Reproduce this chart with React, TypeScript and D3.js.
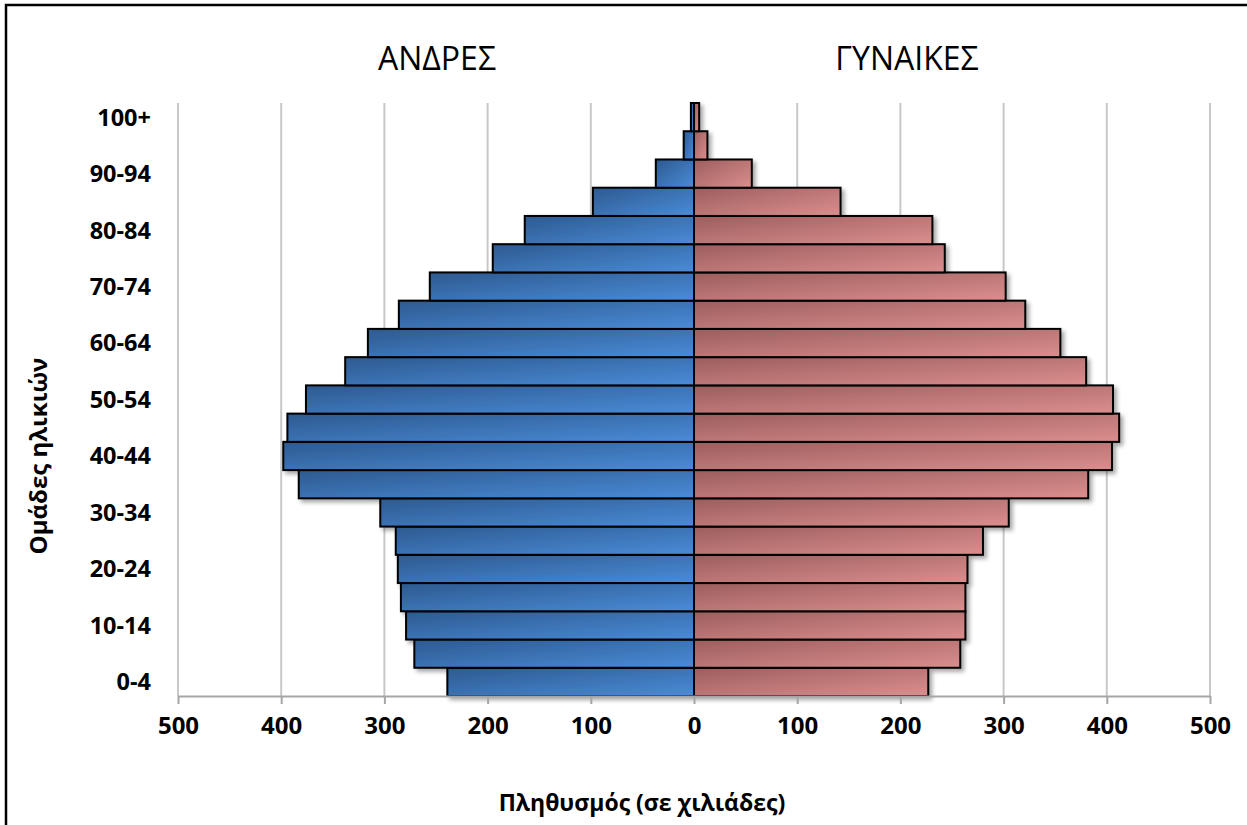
import React, { useEffect, useRef } from 'react';
import * as d3 from 'd3';

const ageGroups = [
  '0-4', '5-9', '10-14', '15-19', '20-24', '25-29', '30-34', '35-39', '40-44', '45-49',
  '50-54', '55-59', '60-64', '65-69', '70-74', '75-79', '80-84', '85-89', '90-94', '95-99', '100+'
];
// thousands
const men = [239, 271, 279, 284, 287, 289, 304, 383, 398, 394, 376, 338, 316, 286, 256, 195, 164, 98, 37, 10, 3];
const women = [227, 258, 263, 263, 265, 280, 305, 382, 405, 412, 406, 380, 355, 321, 302, 243, 231, 142, 56, 13, 5];
const xTicks = [-500, -400, -300, -200, -100, 0, 100, 200, 300, 400, 500];

const width = 1247;
const height = 825;
const font = "'Open Sans', 'DejaVu Sans', sans-serif";

const App = () => {
  const container = useRef(null);

  useEffect(() => {
    const svg = d3.select(container.current);
    svg.selectAll('*').remove();

    const x = d3.scaleLinear().domain([-500, 500]).range([178, 1210]);
    const y = d3.scaleBand().domain(ageGroups).range([696, 103]).padding(0);

    const defs = svg.append('defs');
    const grad = (id, c0, c1) => {
      const g = defs.append('linearGradient').attr('id', id)
        .attr('x1', 0).attr('y1', 0).attr('x2', 1).attr('y2', 1);
      g.append('stop').attr('offset', '0%').attr('stop-color', c0);
      g.append('stop').attr('offset', '100%').attr('stop-color', c1);
    };
    grad('gMen', '#2d5a90', '#4a8bd8');
    grad('gWomen', '#9c5e5e', '#dc8e8e');
    const f = defs.append('filter').attr('id', 'shadow')
      .attr('x', '-10%').attr('y', '-10%').attr('width', '130%').attr('height', '150%');
    f.append('feDropShadow').attr('dx', 3).attr('dy', 3).attr('stdDeviation', 2)
      .attr('flood-color', '#000').attr('flood-opacity', 0.35);

    svg.append('rect').attr('width', width).attr('height', height).attr('fill', '#fff');
    // frame (right/bottom edges fall outside the picture)
    svg.append('rect').attr('x', 6).attr('y', 5).attr('width', width + 20).attr('height', height + 20)
      .attr('fill', 'none').attr('stroke', '#000').attr('stroke-width', 2.5);

    // grid
    svg.append('g').selectAll('line').data(xTicks.filter(d => d !== 0)).join('line')
      .attr('x1', d => x(d)).attr('x2', d => x(d))
      .attr('y1', 103).attr('y2', 696)
      .attr('stroke', '#c8c8c8').attr('stroke-width', 2);

    const bars = svg.append('g').attr('filter', 'url(#shadow)');
    bars.selectAll('.men').data(men).join('rect').attr('class', 'men')
      .attr('x', d => x(-d)).attr('width', d => x(0) - x(-d))
      .attr('y', (d, i) => y(ageGroups[i])).attr('height', y.bandwidth())
      .attr('fill', 'url(#gMen)').attr('stroke', '#000').attr('stroke-width', 2);
    bars.selectAll('.women').data(women).join('rect').attr('class', 'women')
      .attr('x', x(0)).attr('width', d => x(d) - x(0))
      .attr('y', (d, i) => y(ageGroups[i])).attr('height', y.bandwidth())
      .attr('fill', 'url(#gWomen)').attr('stroke', '#000').attr('stroke-width', 2);

    // x axis
    const xAxis = d3.axisBottom(x).tickValues(xTicks).tickFormat(d => String(Math.abs(d)))
      .tickSizeOuter(0).tickSizeInner(8).tickPadding(13);
    const xg = svg.append('g').attr('transform', 'translate(0,696)').call(xAxis);
    xg.select('.domain').attr('stroke', '#a6a6a6').attr('stroke-width', 2);
    xg.selectAll('.tick line').attr('stroke', '#a6a6a6').attr('stroke-width', 2);
    xg.selectAll('.tick text').attr('fill', '#000').attr('font-family', font)
      .attr('font-weight', 'bold').attr('font-size', 24);

    // y labels
    svg.append('g').selectAll('text').data(ageGroups.filter((d, i) => i % 2 === 0)).join('text')
      .attr('x', 151).attr('y', d => y(d) + y.bandwidth() / 2)
      .attr('dy', '0.36em').attr('text-anchor', 'end')
      .attr('font-family', font).attr('font-weight', 'bold').attr('font-size', 23.5)
      .text(d => d);

    // titles
    svg.append('text').attr('x', 437).attr('y', 70).attr('text-anchor', 'middle')
      .attr('font-family', font).attr('font-size', 32).text('ΑΝΔΡΕΣ');
    svg.append('text').attr('x', 907).attr('y', 70).attr('text-anchor', 'middle')
      .attr('font-family', font).attr('font-size', 32).text('ΓΥΝΑΙΚΕΣ');
    svg.append('text').attr('x', 642).attr('y', 811).attr('text-anchor', 'middle')
      .attr('font-family', font).attr('font-weight', 'bold').attr('font-size', 23)
      .text('Πληθυσμός (σε χιλιάδες)');
    svg.append('text').attr('transform', 'translate(47,456) rotate(-90)').attr('text-anchor', 'middle')
      .attr('font-family', font).attr('font-weight', 'bold').attr('font-size', 24)
      .text('Ομάδες ηλικιών');
  }, []);

  return (
    <div style={{ position: 'absolute', left: 0, top: 0 }}>
      <svg ref={container} width={width} height={height} style={{ display: 'block' }} />
    </div>
  );
};

export default App;
